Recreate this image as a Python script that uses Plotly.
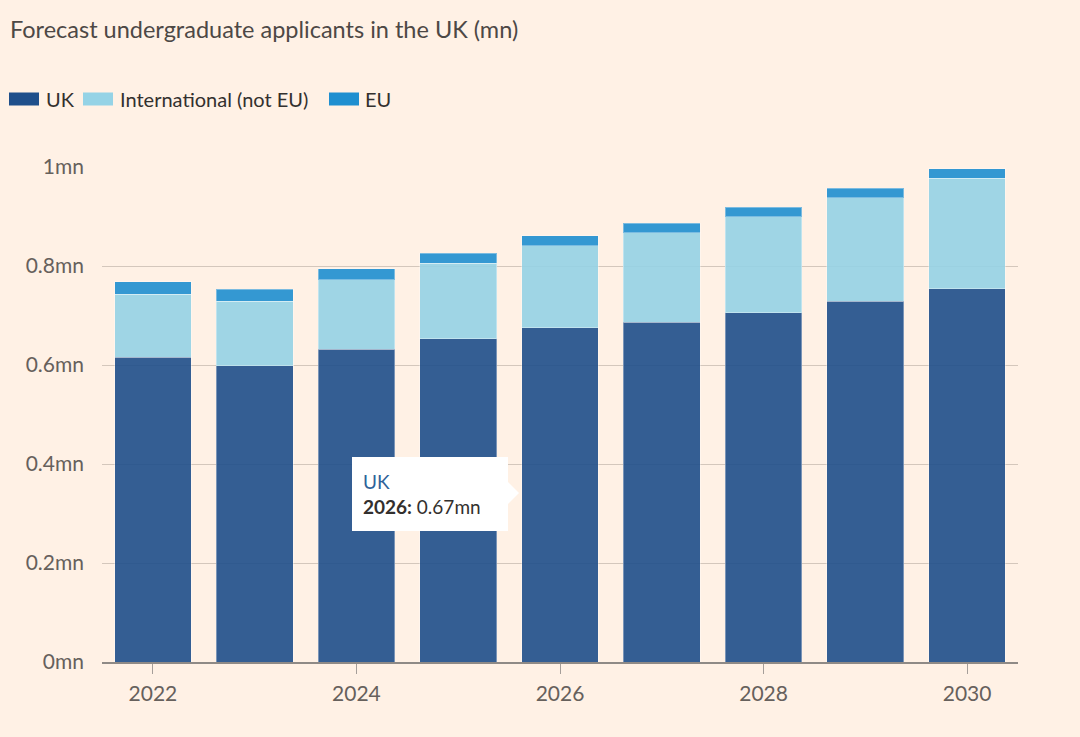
import plotly.graph_objects as go

years = [2022, 2023, 2024, 2025, 2026, 2027, 2028, 2029, 2030]
uk = [0.616, 0.598, 0.632, 0.653, 0.675, 0.686, 0.706, 0.729, 0.754]
intl = [0.127, 0.131, 0.140, 0.153, 0.166, 0.181, 0.194, 0.209, 0.223]
eu = [0.025, 0.024, 0.022, 0.020, 0.020, 0.019, 0.019, 0.019, 0.019]

series_names = ["UK", "International (not EU)", "EU"]
series_colors = ["#1f4f8b", "#95d3e6", "#1f8fd0"]
series_values = [uk, intl, eu]

FONT = "Lato"
BG = "#fff1e5"

# plot-area geometry in pixels (for layout-only helpers)
L, R, T, B = 102, 1018, 167, 662
W, H = R - L, B - T


def px(x):
    return (x - L) / W


def py(y):
    return (B - y) / H


fig = go.Figure()
for name, vals, col in zip(series_names, series_values, series_colors):
    fig.add_trace(go.Bar(
        x=years, y=vals, name=name, showlegend=False,
        marker=dict(color=col, opacity=0.9,
                    line=dict(color="rgba(255,255,255,0.35)", width=1)),
    ))

fig.update_layout(
    barmode="stack",
    bargap=0.246,
    width=1080, height=737,
    paper_bgcolor=BG, plot_bgcolor=BG,
    margin=dict(l=L, r=1080 - R, t=T, b=737 - B),
    font=dict(family=FONT, color="#66605c", size=21),
    title=dict(text="Forecast undergraduate applicants in the UK (mn)",
               x=10/1080, xref="container", xanchor="left",
               y=1-30/737, yref="container", yanchor="middle",
               font=dict(family=FONT, size=23.5, color="#4d4845")),
    xaxis=dict(range=[2021.5, 2030.5], tickvals=[2022, 2024, 2026, 2028, 2030],
               ticks="outside", ticklen=10, tickcolor="#a59e99", tickwidth=1,
               showline=True, linecolor="#8f8a86", linewidth=2,
               showgrid=False, zeroline=False, ticklabelstandoff=2,
               tickfont=dict(family=FONT, size=21, color="#66605c")),
    yaxis=dict(range=[0, 1.0], tickvals=[0, 0.2, 0.4, 0.6, 0.8, 1.0],
               ticktext=["0mn", "0.2mn", "0.4mn", "0.6mn", "0.8mn", "1mn"],
               showgrid=True, gridcolor="#d4c7bc", gridwidth=1,
               zeroline=False, ticks="", ticklabelstandoff=17,
               tickfont=dict(family=FONT, size=21, color="#66605c")),
    hovermode=False,
)

# custom legend: wide rectangular swatches like the reference
legend_swatch_x = [9, 83, 329]
legend_text_x = [44, 118, 363]
for name, col, sx, tx in zip(series_names, series_colors, legend_swatch_x, legend_text_x):
    fig.add_shape(type="rect", xref="paper", yref="paper",
                  x0=px(sx), x1=px(sx + 30), y0=py(105.5), y1=py(92.5),
                  fillcolor=col, line=dict(width=0))
    fig.add_annotation(xref="paper", yref="paper", x=px(tx), y=py(99.5),
                       xanchor="left", yanchor="middle", showarrow=False,
                       text=name, font=dict(family=FONT, size=20, color="#33302e"))

# static tooltip as seen in the reference
fig.add_annotation(
    xref="paper", yref="paper", x=px(430), y=py(494),
    xanchor="center", yanchor="middle", showarrow=False, align="left",
    width=134, height=52,
    text="<span style='color:#2e6299'>UK</span><br><b>2026:</b> 0.67mn",
    bgcolor="#ffffff", bordercolor="#ffffff", borderpad=10,
    font=dict(family=FONT, size=19, color="#33302e"),
)
fig.add_shape(type="path", xref="paper", yref="paper",
              path=f"M {px(507)} {py(481)} L {px(519)} {py(493)} L {px(507)} {py(505)} Z",
              fillcolor="#ffffff", line=dict(width=0))

fig.write_html("out.html",
               config={"displayModeBar": False},
               post_script="document.body.style.margin='0';document.body.style.background='#fff1e5';")
